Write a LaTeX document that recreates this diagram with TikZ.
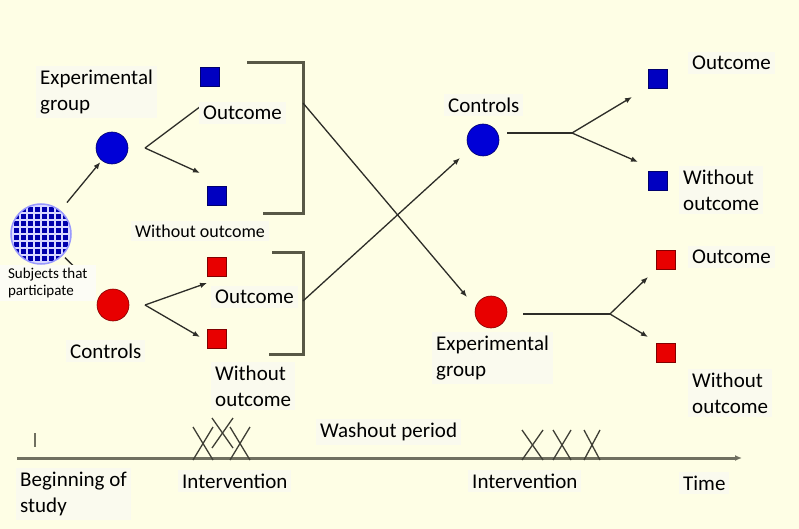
\documentclass[tikz,border=0pt]{standalone}
\usepackage{fontspec}
\setmainfont{Carlito}
\usetikzlibrary{arrows.meta}
\definecolor{paper}{RGB}{254,254,229}
\definecolor{tagbg}{RGB}{250,250,238}
\definecolor{ink}{RGB}{45,45,40}
\definecolor{rulec}{RGB}{88,88,70}
\definecolor{axisc}{RGB}{112,112,96}
\definecolor{bluefill}{RGB}{0,0,215}
\definecolor{blueedge}{RGB}{0,0,110}
\definecolor{redfill}{RGB}{232,0,0}
\definecolor{rededge}{RGB}{130,0,0}

\begin{document}
\begin{tikzpicture}[x=1pt,y=-1pt,
  tag/.style={fill=tagbg, inner xsep=4pt, inner ysep=4pt, align=left, anchor=west,
              font=\fontsize{21}{26}\selectfont, text=black},
  smalltag/.style={tag, font=\fontsize{18}{22}\selectfont},
  tinytag/.style={tag, inner xsep=2pt, inner ysep=3pt, font=\fontsize{15}{17}\selectfont},
  bdot/.style={circle, minimum size=32pt, inner sep=0pt, fill=bluefill, draw=blueedge, line width=0.6pt},
  rdot/.style={circle, minimum size=32pt, inner sep=0pt, fill=redfill, draw=rededge, line width=0.6pt},
  bsq/.style={rectangle, minimum size=19pt, inner sep=0pt, fill=bluefill!90!black, draw=blueedge, line width=1pt},
  rsq/.style={rectangle, minimum size=19pt, inner sep=0pt, fill=redfill, draw=rededge, line width=1pt},
  arr/.style={draw=ink, line width=1.3pt, -{Latex[length=7pt,width=5.5pt]}},
  plain/.style={draw=ink, line width=1.3pt},
  bracket/.style={draw=rulec, line width=3pt},
  axisline/.style={draw=axisc, line width=3pt, -{Latex[length=7pt,width=6pt]}},
  xmark/.style={draw=axisc!55!black, line width=1.3pt},
]
\fill[paper] (0,0) rectangle (799,529);
\useasboundingbox (0,0) rectangle (799,529);

% ---- shapes ----
\node[circle, minimum size=60pt, inner sep=0pt, fill=bluefill!80!black,
      draw=white!60!blue, line width=1.5pt,
      path picture={
        \foreach \k in {-28,-21,...,28}{
          \draw[white!85!blue, line width=1.4pt]
            ([xshift=\k pt]path picture bounding box.north) --
            ([xshift=\k pt]path picture bounding box.south);
          \draw[white!85!blue, line width=1.4pt]
            ([yshift=\k pt]path picture bounding box.west) --
            ([yshift=\k pt]path picture bounding box.east);
        }}] (subj) at (41,234) {};

\node[bdot] (expL)  at (112,148) {};
\node[rdot] (ctrlL) at (113,305) {};
\node[bdot] (ctrlR) at (483,140) {};
\node[rdot] (expR)  at (491,312) {};

\node[bsq] (bo1) at (210,77)  {};
\node[bsq] (bw1) at (217,196) {};
\node[rsq] (ro1) at (217,267) {};
\node[rsq] (rw1) at (217,339) {};
\node[bsq] (bo2) at (658,79)  {};
\node[bsq] (bw2) at (658,181) {};
\node[rsq] (ro2) at (666,260) {};
\node[rsq] (rw2) at (666,353) {};

% ---- fork and crossing points ----
\coordinate (fL1) at (145,148);
\coordinate (fL1a) at (201,106);
\coordinate (fL1b) at (200,173);
\coordinate (fL2) at (145,305);
\coordinate (fL2a) at (207,283);
\coordinate (fL2b) at (200,337);
\coordinate (sR1) at (507,133);
\coordinate (fR1) at (572,133);
\coordinate (fR1a) at (632,97);
\coordinate (fR1b) at (638,162);
\coordinate (sR2) at (523,314);
\coordinate (fR2) at (610,314);
\coordinate (fR2a) at (648,277);
\coordinate (fR2b) at (648,337);

% brackets
\coordinate (b1a) at (247,63);
\coordinate (b1b) at (303,213);
\coordinate (b1c) at (263,213);
\coordinate (b2a) at (272,252);
\coordinate (b2b) at (303,354);
\coordinate (b2c) at (269,354);
\coordinate (crA) at (303,103);
\coordinate (crB) at (303,301);
\coordinate (tipA) at (467,297);
\coordinate (tipB) at (460,158);

% ---- connectors ----
\draw[arr, shorten <=10pt, shorten >=2pt] (subj) -- (expL);
\draw[arr, shorten <=3pt, shorten >=12pt] (subj) -- (ctrlL);

\draw[plain] (fL1a) -- (fL1) ;
\draw[arr] (fL1) -- (fL1b);
\draw[arr] (fL2) -- (fL2a);
\draw[arr] (fL2) -- (fL2b);

\draw[plain] (sR1) -- (fR1);
\draw[arr] (fR1) -- (fR1a);
\draw[arr] (fR1) -- (fR1b);
\draw[plain] (sR2) -- (fR2);
\draw[arr] (fR2) -- (fR2a);
\draw[arr] (fR2) -- (fR2b);

\draw[bracket] (b1a) -| (b1b) -- (b1c);
\draw[bracket] (b2a) -| (b2b) -- (b2c);

\draw[arr] (crA) -- (tipA);
\draw[arr] (crB) -- (tipB);

% ---- time axis ----
\coordinate (t0) at (17,458);
\coordinate (t1) at (742,458);
\draw[axisline] (t0) -- (t1);
\draw[draw=axisc, line width=2pt] (35,433) -- (35,447);
\foreach \xa/\xb/\ya/\yb in {193/213/427/460, 212/233/418/448, 230/250/427/460,
                             522/543/430/460, 553/571/430/460, 584/600/430/460}{
  \draw[xmark] (\xa,\ya) -- (\xb,\yb);
  \draw[xmark] (\xb,\ya) -- (\xa,\yb);
}

% ---- labels ----
\node[tag] (lExpL) at (36,92) {Experimental\\group};
\node[tag] (lOutL1) at (199,113) {Outcome};
\node[smalltag] (lWoL1) at (131,231) {Without outcome};
\node[tinytag, fill=tagbg!60!white, minimum width=97pt] (lSubj) at (-1,283) {Subjects that\\participate};
\node[tag] (lOutL2) at (211,297) {Outcome};
\node[tag] (lCtrlL) at (66,351) {Controls};
\node[tag] (lWoL2) at (211,386) {Without\\outcome};

\node[tag] (lCtrlR) at (444,105) {Controls};
\node[tag] (lOutR1) at (688,63) {Outcome};
\node[tag] (lWoR1) at (679,190) {Without\\outcome};
\node[tag] (lOutR2) at (688,257) {Outcome};
\node[tag] (lWoR2) at (688,393) {Without\\outcome};
\node[tag] (lExpR) at (432,358) {Experimental\\group};

\node[tag] (lWash) at (316,432) {Washout period};
\node[tag] (lBeg) at (16,494) {Beginning of\\study};
\node[tag] (lInt1) at (178,481) {Intervention};
\node[tag] (lInt2) at (468,481) {Intervention};
\node[tag] (lTime) at (679,483) {Time};
\end{tikzpicture}
\end{document}
